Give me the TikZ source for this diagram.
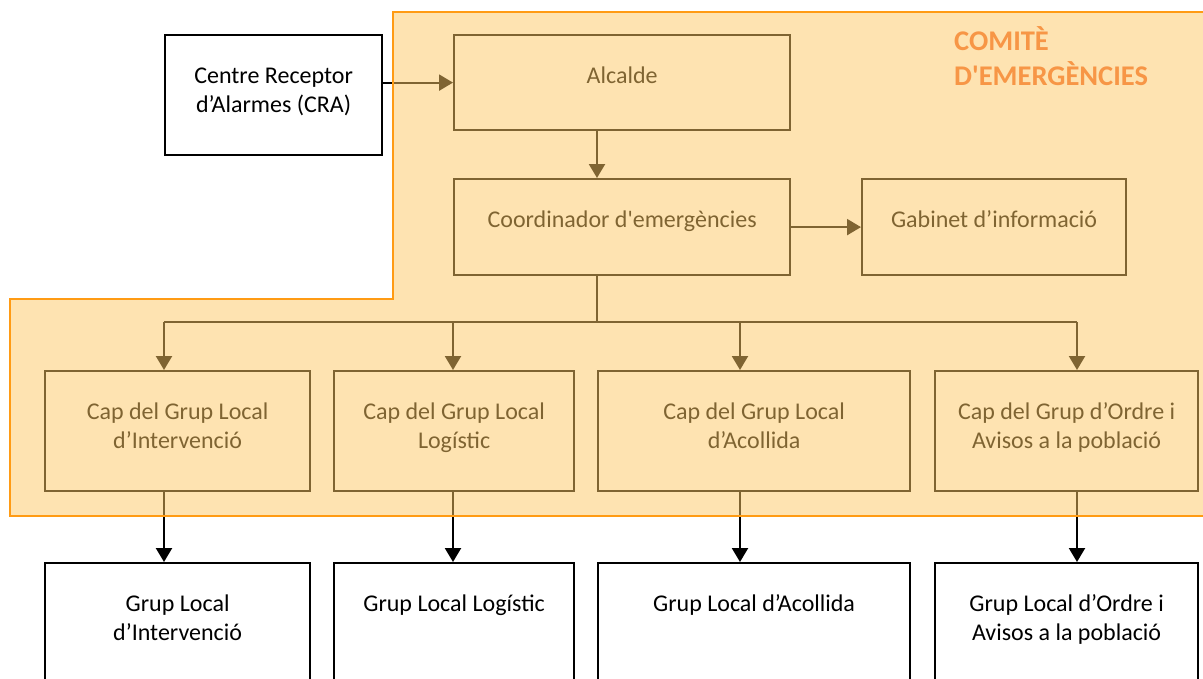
\documentclass[tikz,border=0pt]{standalone}
\usepackage{fontspec}
\setmainfont{Carlito}[Ligatures=TeXOff]
\usetikzlibrary{arrows.meta}
\definecolor{ovl}{RGB}{254,200,100}
\definecolor{orbord}{RGB}{255,155,20}
\definecolor{titleor}{RGB}{247,150,70}
\begin{document}
\begin{tikzpicture}[x=1pt,y=-1pt,
  box/.style={draw=black, line width=2.2pt, fill=white, inner sep=0pt, anchor=north west},
  txt/.style={font=\fontsize{24}{29.4}\selectfont, align=center, anchor=base, inner sep=0pt},
  arr/.style={line width=2.2pt, -{Triangle[length=14pt,width=16pt]}},
  ln/.style={line width=2.2pt}]
\fill[white] (0,0) rectangle (1203,678);
\useasboundingbox (0,0) rectangle (1203,678);

% column coordinates
\coordinate (tx) at (597,0);
\coordinate (x1) at (164,0);
\coordinate (x2) at (453,0);
\coordinate (x3) at (740,0);
\coordinate (x4) at (1077,0);
\coordinate (bus) at (597,322);

% boxes
\node[box, minimum width=217pt, minimum height=120pt] (cra) at (164,34) {};
\node[box, minimum width=336pt, minimum height=95pt] (alc) at (453,34) {};
\node[box, minimum width=336pt, minimum height=96pt] (coord) at (453,178) {};
\node[box, minimum width=264pt, minimum height=96pt] (gab) at (861,178) {};
\node[box, minimum width=265pt, minimum height=120pt] (cap1) at (44,370) {};
\node[box, minimum width=240pt, minimum height=120pt] (cap2) at (333,370) {};
\node[box, minimum width=312pt, minimum height=120pt] (cap3) at (597,370) {};
\node[box, minimum width=263pt, minimum height=120pt] (cap4) at (934,370) {};
\node[box, minimum width=265pt, minimum height=140pt] (grp1) at (44,562) {};
\node[box, minimum width=240pt, minimum height=140pt] (grp2) at (333,562) {};
\node[box, minimum width=312pt, minimum height=140pt] (grp3) at (597,562) {};
\node[box, minimum width=263pt, minimum height=140pt] (grp4) at (934,562) {};

% texts (base = baseline of the last line)
\node[txt] (cra-t) at ([yshift=-78.4pt]cra.north) {Centre Receptor\\d’Alarmes (CRA)};
\node[txt] (alc-t) at ([yshift=-49pt]alc.north) {Alcalde};
\node[txt] (coord-t) at ([yshift=-49pt]coord.north) {Coordinador d'emergències};
\node[txt] (gab-t) at ([yshift=-49pt]gab.north) {Gabinet d’informació};
\node[txt] (cap1-t) at ([yshift=-78.4pt]cap1.north) {Cap del Grup Local\\d’Intervenció};
\node[txt] (cap2-t) at ([yshift=-78.4pt]cap2.north) {Cap del Grup Local\\Logístic};
\node[txt] (cap3-t) at ([yshift=-78.4pt]cap3.north) {Cap del Grup Local\\d’Acollida};
\node[txt] (cap4-t) at ([yshift=-78.4pt]cap4.north) {Cap del Grup d’Ordre i\\Avisos a la població};
\node[txt] (grp1-t) at ([yshift=-78.4pt]grp1.north) {Grup Local\\d’Intervenció};
\node[txt] (grp2-t) at ([yshift=-49pt]grp2.north) {Grup Local Logístic};
\node[txt] (grp3-t) at ([yshift=-49pt]grp3.north) {Grup Local d’Acollida};
\node[txt] (grp4-t) at ([yshift=-78.4pt]grp4.north) {Grup Local d’Ordre i\\Avisos a la població};

% connectors
\draw[arr] (cra.east |- alc.west) -- (alc.west);
\draw[arr] (alc.south -| tx) -- (coord.north -| tx);
\draw[arr] (coord.east) -- (gab.west);
\draw[ln] (coord.south -| tx) -- (bus);
\draw[ln] (bus -| x1) -- (bus -| x4);
\draw[arr] (bus -| x1) -- (cap1.north -| x1);
\draw[arr] (bus -| x2) -- (cap2.north -| x2);
\draw[arr] (bus -| x3) -- (cap3.north -| x3);
\draw[arr] (bus -| x4) -- (cap4.north -| x4);
\draw[arr] (cap1.south -| x1) -- (grp1.north -| x1);
\draw[arr] (cap2.south -| x2) -- (grp2.north -| x2);
\draw[arr] (cap3.south -| x3) -- (grp3.north -| x3);
\draw[arr] (cap4.south -| x4) -- (grp4.north -| x4);

% committee overlay
\fill[ovl, fill opacity=0.5] (393,12) -- (1215,12) -- (1215,516) -- (10,516) -- (10,299) -- (393,299) -- cycle;
\draw[orbord, line width=1.6pt] (393,12) -- (1215,12) -- (1215,516) -- (10,516) -- (10,299) -- (393,299) -- cycle;

\node[anchor=base west, font=\bfseries\fontsize{28.5}{35}\selectfont, text=titleor, align=left, inner sep=0pt] (title) at (954,85) {COMITÈ\\D'EMERGÈNCIES};
\end{tikzpicture}
\end{document}
